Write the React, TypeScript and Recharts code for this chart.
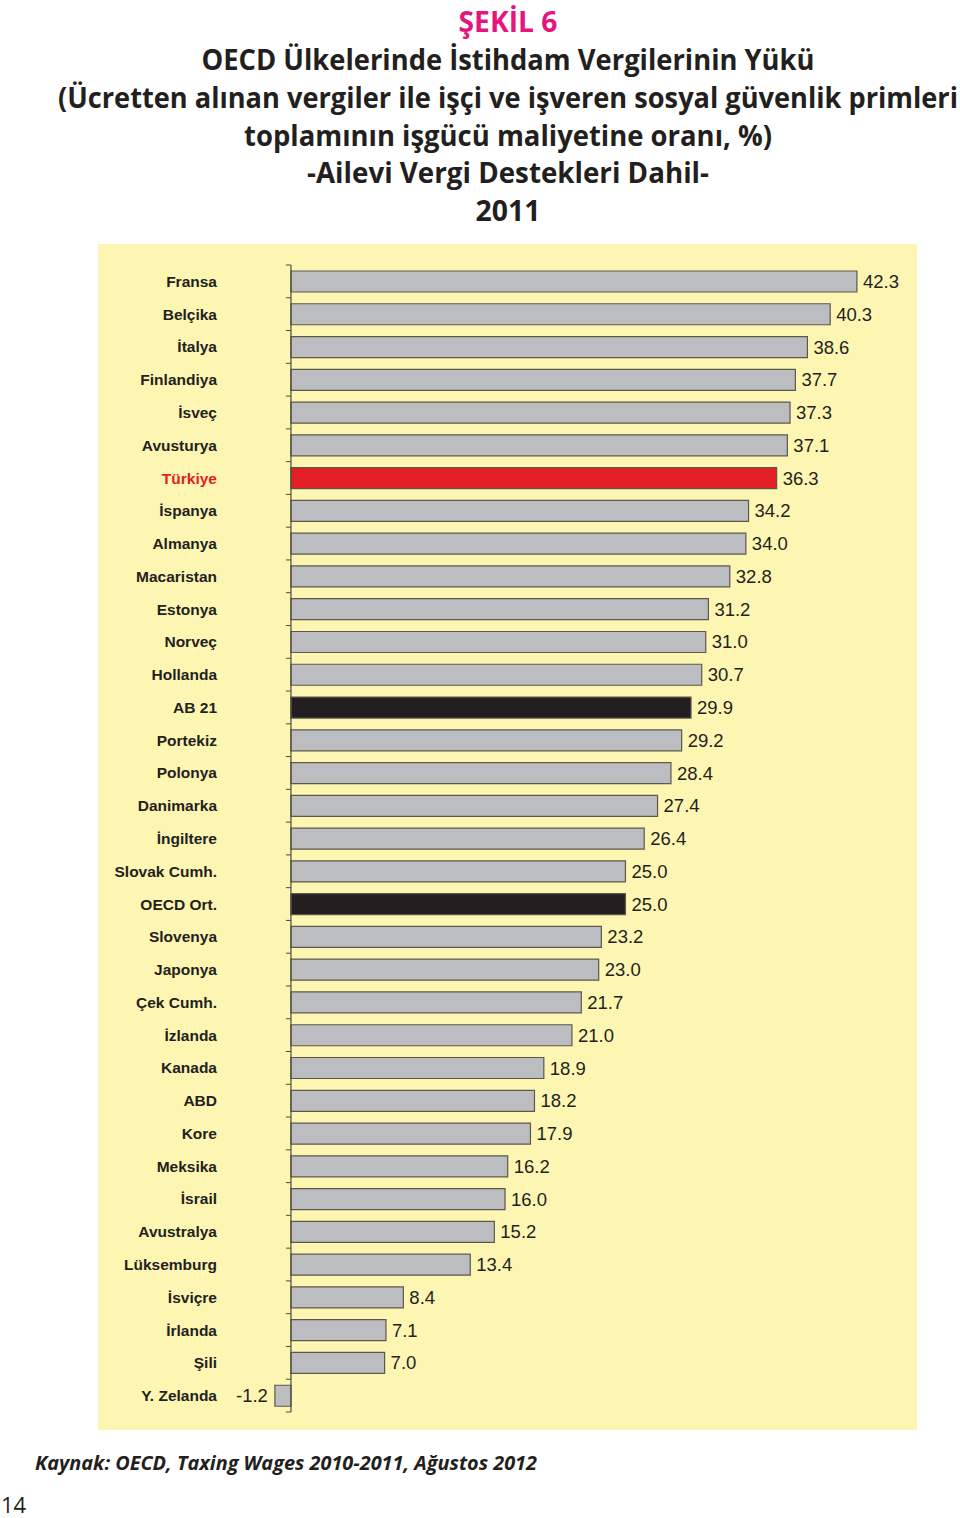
import React from 'react';
import { BarChart, Bar, XAxis, YAxis, Cell, LabelList, ReferenceLine } from 'recharts';

const countries = [
  'Fransa', 'Belçika', 'İtalya', 'Finlandiya', 'İsveç', 'Avusturya', 'Türkiye', 'İspanya', 'Almanya',
  'Macaristan', 'Estonya', 'Norveç', 'Hollanda', 'AB 21', 'Portekiz', 'Polonya', 'Danimarka', 'İngiltere',
  'Slovak Cumh.', 'OECD Ort.', 'Slovenya', 'Japonya', 'Çek Cumh.', 'İzlanda', 'Kanada', 'ABD', 'Kore',
  'Meksika', 'İsrail', 'Avustralya', 'Lüksemburg', 'İsviçre', 'İrlanda', 'Şili', 'Y. Zelanda',
];
const values = [
  42.3, 40.3, 38.6, 37.7, 37.3, 37.1, 36.3, 34.2, 34.0, 32.8, 31.2, 31.0, 30.7, 29.9, 29.2, 28.4, 27.4, 26.4,
  25.0, 25.0, 23.2, 23.0, 21.7, 21.0, 18.9, 18.2, 17.9, 16.2, 16.0, 15.2, 13.4, 8.4, 7.1, 7.0, -1.2,
];
const redRows = ['Türkiye'];
const blackRows = ['AB 21', 'OECD Ort.'];

const titleLines = [
  'OECD Ülkelerinde İstihdam Vergilerinin Yükü',
  '(Ücretten alınan vergiler ile işçi ve işveren sosyal güvenlik primleri',
  'toplamının işgücü maliyetine oranı, %)',
  '-Ailevi Vergi Destekleri Dahil-',
  '2011',
];
const titleWidths = [613, 900, 528, 402, 65];

const data = countries.map((name, i) => ({ name, value: values[i] }));

// layout
const CHART_W = 819;
const CHART_H = 1186;
const MARGIN = { top: 21, right: 19, bottom: 18, left: 0 };
const Y_W = 129;
const PLOT_W = CHART_W - MARGIN.right - Y_W;
const PLOT_H = CHART_H - MARGIN.top - MARGIN.bottom;
const DOMAIN: [number, number] = [-4.78, 45.37];
const ZERO_X = Y_W + (-DOMAIN[0] / (DOMAIN[1] - DOMAIN[0])) * PLOT_W;
const BAND = PLOT_H / countries.length;
const TITLE_CX = 508;

const LABEL_FONT = '"Liberation Sans", Arial, Helvetica, sans-serif';
const TITLE_FONT = '"Open Sans", "Noto Sans", sans-serif';

const barColor = (name: string) =>
  redRows.includes(name) ? '#e31e24' : blackRows.includes(name) ? '#231f20' : '#bcbdc0';

const CountryTick = (props: any) => {
  const { x, y, payload, index } = props;
  const name = payload.value;
  const axisX = ZERO_X - x;
  const last = index === countries.length - 1;
  return (
    <g transform={`translate(${x},${y})`}>
      <text
        x={0}
        y={0}
        dy={5.5}
        textAnchor="end"
        fontFamily={LABEL_FONT}
        fontWeight="bold"
        fontSize={15.5}
        fill={redRows.includes(name) ? '#e31e24' : '#231f20'}
      >
        {name}
      </text>
      <line x1={axisX - 5} x2={axisX} y1={-BAND / 2} y2={-BAND / 2} stroke="#4a4a40" strokeWidth={1} />
      {last && <line x1={axisX - 5} x2={axisX} y1={BAND / 2} y2={BAND / 2} stroke="#4a4a40" strokeWidth={1} />}
    </g>
  );
};

const renderValueLabel = (props: any) => {
  const { x, y, width, height, value } = props;
  const left = Math.min(x, x + width);
  const right = Math.max(x, x + width);
  const neg = value < 0;
  return (
    <text
      x={neg ? left - 7 : right + 6}
      y={y + height / 2}
      dy={6.5}
      textAnchor={neg ? 'end' : 'start'}
      fontFamily={LABEL_FONT}
      fontSize={18.5}
      fill="#231f20"
    >
      {value.toFixed(1)}
    </text>
  );
};

const App: React.FC = () => {
  return (
    <div style={{ position: 'relative', width: 960, height: 1518, overflow: 'hidden' }}>
      <style>{'body{margin:0}'}</style>
      <div style={{ position: 'absolute', left: 98, top: 244, width: CHART_W, height: CHART_H, background: '#fdf6b2' }}>
        <BarChart width={CHART_W} height={CHART_H} data={data} layout="vertical" margin={MARGIN}>
          <XAxis type="number" domain={DOMAIN} hide allowDataOverflow />
          <YAxis
            type="category"
            dataKey="name"
            width={Y_W}
            interval={0}
            axisLine={false}
            tickLine={false}
            tickSize={0}
            tickMargin={10}
            tick={(p: any) => <CountryTick {...p} />}
          />
          <Bar dataKey="value" barSize={21} stroke="#5c584a" strokeWidth={1.2} isAnimationActive={false}>
            {data.map((d) => (
              <Cell key={d.name} fill={barColor(d.name)} />
            ))}
            <LabelList dataKey="value" content={renderValueLabel} />
          </Bar>
          <ReferenceLine x={0} stroke="#4a4a40" strokeWidth={1.2} />
        </BarChart>
      </div>
      <svg width={960} height={1518} style={{ position: 'absolute', left: 0, top: 0, pointerEvents: 'none' }}>
        <text
          x={TITLE_CX - 99 / 2}
          y={32}
          fontFamily={TITLE_FONT}
          fontWeight="bold"
          fontSize={29}
          fill="#e5157f"
          textLength={99}
          lengthAdjust="spacingAndGlyphs"
        >
          ŞEKİL 6
        </text>
        {titleLines.map((line, i) => (
          <text
            key={line}
            x={TITLE_CX - titleWidths[i] / 2}
            y={70 + i * 37.8}
            fontFamily={TITLE_FONT}
            fontWeight="bold"
            fontSize={29}
            fill="#231f20"
            textLength={titleWidths[i]}
            lengthAdjust="spacingAndGlyphs"
          >
            {line}
          </text>
        ))}
        <text
          x={35}
          y={1470}
          fontFamily={TITLE_FONT}
          fontWeight="bold"
          fontStyle="italic"
          fontSize={20}
          fill="#231f20"
          textLength={502}
          lengthAdjust="spacingAndGlyphs"
        >
          Kaynak: OECD, Taxing Wages 2010-2011, Ağustos 2012
        </text>
        <text x={1} y={1513} fontFamily={TITLE_FONT} fontSize={22} fill="#231f20">
          14
        </text>
      </svg>
    </div>
  );
};

export default App;
